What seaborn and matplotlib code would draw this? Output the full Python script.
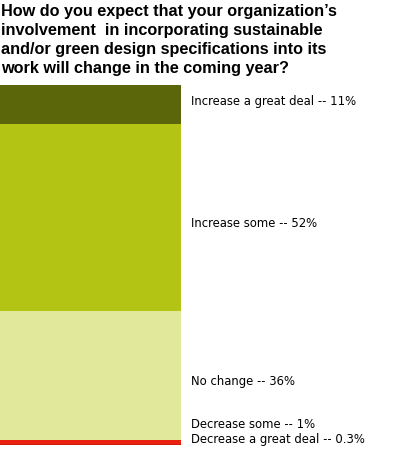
import matplotlib
matplotlib.use("Agg")
import matplotlib.pyplot as plt
import seaborn as sns
import numpy as np
import pandas as pd

# data (bottom to top of the stacked bar)
categories = ["Decrease a great deal", "Decrease some", "No change",
              "Increase some", "Increase a great deal"]
values = [0.3, 1, 36, 52, 11]
value_labels = ["0.3%", "1%", "36%", "52%", "11%"]
colors = ["#d01a0c", "#e8220e", "#e1e89c", "#b4c414", "#5b6509"]

title = ("How do you expect that your organization\u2019s\n"
         "involvement  in incorporating sustainable\n"
         "and/or green design specifications into its\n"
         "work will change in the coming year?")

sns.set_style("white")
plt.rcParams['font.family'] = ['DejaVu Sans']

W, H = 411, 450
fig = plt.figure(figsize=(W / 100, H / 100), dpi=100)
ax = fig.add_axes([0, 5 / H, 181 / W, 360 / H])

cum = np.cumsum(values)
df = pd.DataFrame({"x": ["bar"] * len(values), "top": cum, "cat": categories})

# draw the cumulative bars, tallest first, so each segment shows through
for i in range(len(values) - 1, -1, -1):
    sns.barplot(data=df.iloc[[i]], x="x", y="top", color=colors[i],
                width=1.0, saturation=1, ax=ax, edgecolor="none")

ax.set_xlim(-0.5, 0.5)
ax.set_ylim(0, cum[-1])
ax.axis("off")

# labels to the right of the bar
mids = cum - np.array(values) / 2
label_y = list(mids)
label_y[0] = cum[0] + 1.2
label_y[1] = cum[1] + 4.5
label_y[2] = mids[2] - 1.5
label_y[3] = mids[3] - 1.5
label_y[4] = mids[4] + 1.0
for cat, lab, y in zip(categories, value_labels, label_y):
    ax.annotate(f"{cat} -- {lab}", xy=(0.5, y), xycoords="data",
                xytext=(7.2, 0), textcoords="offset points",
                ha="left", va="center", fontsize=8.4, color="black",
                family="DejaVu Sans", annotation_clip=False)

fig.text(1 / W, 1 - 4 / H, title, ha="left", va="top", fontsize=11.7,
         fontweight="bold", family="Liberation Sans", linespacing=1.32,
         color="black")

fig.savefig("out.png", dpi=100, facecolor="white")
